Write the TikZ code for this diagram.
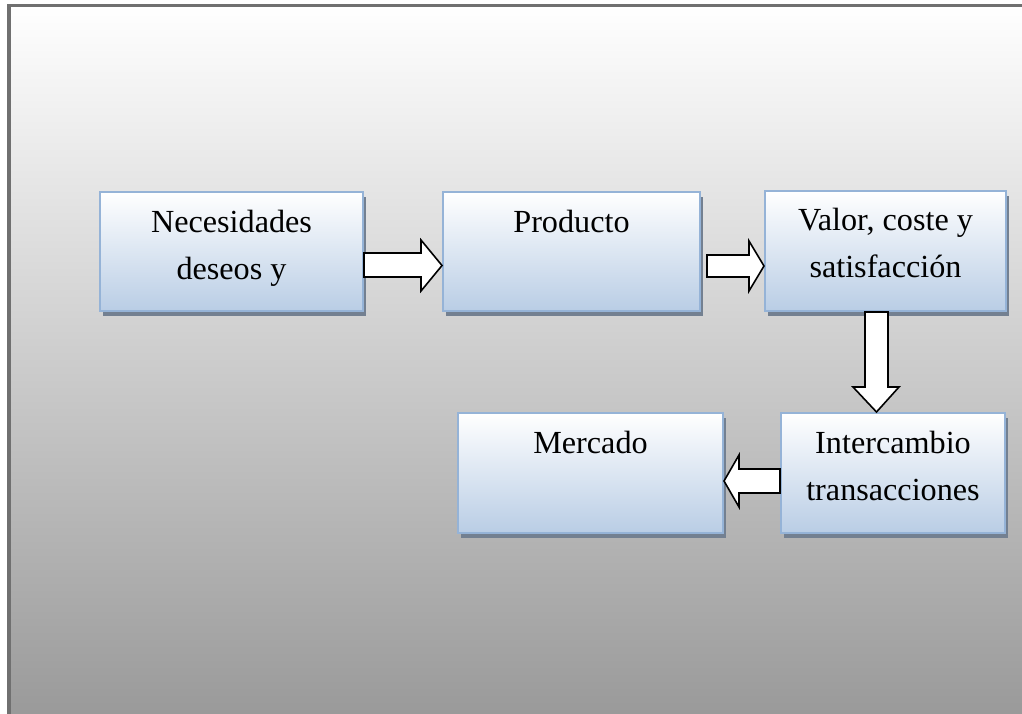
\documentclass[tikz,border=0pt]{standalone}
\usepackage{fontspec}
\setmainfont{Liberation Serif}
\usetikzlibrary{calc,shadows}
\definecolor{boxline}{RGB}{149,179,215}
\definecolor{boxbot}{RGB}{185,205,229}
\definecolor{shadowc}{RGB}{115,128,145}
\definecolor{framec}{RGB}{112,112,112}
\definecolor{bgmid}{RGB}{216,216,216}
\definecolor{bgbot}{RGB}{153,153,153}
\begin{document}
\begin{tikzpicture}[x=1pt,y=1pt,
  flowbox/.style={draw=boxline, line width=2pt, top color=white, bottom color=boxbot, inner sep=0pt,
    drop shadow={shadow xshift=3pt, shadow yshift=-5pt, fill=shadowc, opacity=1}},
  boxtext/.style={font=\fontsize{32.2}{47}\selectfont, align=center, inner sep=0pt, anchor=north},
  barrow/.style={draw=black, line width=1.6pt, fill=white, line join=miter}]
\useasboundingbox (0,0) rectangle (1022,-713);
\clip (0,0) rectangle (1022,-713);
\fill[white] (0,0) rectangle (1022,-713);
\shade[top color=white, middle color=bgmid, bottom color=bgbot] (9,-5.5) rectangle (1030,-720);
\draw[framec, line width=3.5pt] (9,-720) -- (9,-5.5) -- (1030,-5.5);

% boxes
\node[flowbox, minimum width=263pt, minimum height=119pt] (nec) at (231.5,-251.5) {};
\node[flowbox, minimum width=257pt, minimum height=119pt] (prod) at (571.5,-251.5) {};
\node[flowbox, minimum width=241pt, minimum height=120pt] (val) at (885.5,-251) {};
\node[flowbox, minimum width=265pt, minimum height=120pt] (merc) at (590.5,-473) {};
\node[flowbox, minimum width=224pt, minimum height=120pt] (inter) at (893,-473) {};

% texts
\node[boxtext] (tnec) at ($(nec.north)+(0,-11)$) {\rule{0pt}{30pt}Necesidades\\deseos y};
\node[boxtext] (tprod) at ($(prod.north)+(0,-11)$) {\rule{0pt}{30pt}Producto};
\node[boxtext] (tval) at ($(val.north)+(0,-10.5)$) {\rule{0pt}{30pt}Valor, coste y\\satisfacción};
\node[boxtext] (tmerc) at ($(merc.north)+(0,-11)$) {\rule{0pt}{30pt}Mercado};
\node[boxtext] (tinter) at ($(inter.north)+(0,-11)$) {\rule{0pt}{30pt}Intercambio\\transacciones};

% block arrows
\draw[barrow] let \p1=(nec.east), \p2=(prod.west) in
  (\x1,-253) -- (\x2-21,-253) -- (\x2-21,-240) -- (\x2,-265.5) -- (\x2-21,-291) -- (\x2-21,-277) -- (\x1,-277) -- cycle;
\draw[barrow] let \p1=(prod.east), \p2=(val.west) in
  (\x1+6,-255) -- (\x2-15,-255) -- (\x2-15,-241) -- (\x2,-266) -- (\x2-15,-291) -- (\x2-15,-277) -- (\x1+6,-277) -- cycle;
\draw[barrow] let \p1=(val.south), \p2=(inter.north) in
  (865,\y1) -- (865,\y2+25) -- (853,\y2+25) -- (876.5,\y2) -- (899,\y2+25) -- (888,\y2+25) -- (888,\y1) -- cycle;
\draw[barrow] let \p1=(inter.west), \p2=(merc.east) in
  (\x1,-469) -- (\x2+15,-469) -- (\x2+15,-455) -- (\x2,-481) -- (\x2+15,-507) -- (\x2+15,-493) -- (\x1,-493) -- cycle;
\end{tikzpicture}
\end{document}
